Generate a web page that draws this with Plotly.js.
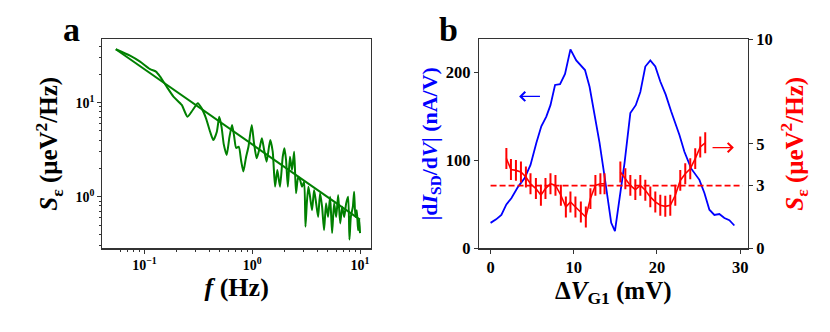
<!DOCTYPE html>
<html>
<head>
<meta charset="utf-8">
<script src="https://cdn.plot.ly/plotly-3.0.1.min.js"></script>
<style>
  html, body { margin: 0; padding: 0; background: #fff; }
  #chart { width: 830px; height: 332px; }
</style>
</head>
<body>
<div id="chart"></div>
<script>
// panel a: noise spectrum (log-log)
const freq = [0.0543, 0.0736, 0.0912, 0.113, 0.128, 0.14, 0.161, 0.186, 0.222, 0.251,
  0.281, 0.313, 0.34, 0.373, 0.407, 0.436, 0.47, 0.495, 0.52, 0.545,
  0.58, 0.615, 0.65, 0.68, 0.71, 0.75, 0.79, 0.828, 0.875, 0.923,
  0.99, 1.04, 1.10, 1.17, 1.23, 1.29, 1.36, 1.47, 1.55, 1.63,
  1.71, 1.81, 1.92, 1.99, 2.06, 2.14, 2.24, 2.34, 2.45, 2.55,
  2.67, 2.78, 2.9, 3.03, 3.12, 3.21, 3.32, 3.44, 3.59, 3.75,
  3.92, 4.09, 4.26, 4.45, 4.64, 4.84, 5.05, 5.28, 5.51, 5.75,
  6.01, 6.27, 6.55, 6.83, 7.13, 7.44, 7.76, 7.98, 8.22, 8.58,
  8.82, 9.06, 9.33, 9.6, 9.86, 10];
const spectrum = [37, 31.6, 27.3, 22.7, 21.4, 18.9, 14.8, 11.6, 9.46, 7.1,
  8.36, 9.86, 8.7, 6.82, 4.91, 4.01, 4.91, 7.1, 5.5, 3.6,
  2.78, 4.3, 5.8, 4.4, 3.3, 3.4, 2.4, 1.85, 2.6, 3.4,
  5.79, 3.7, 2.56, 3.27, 4.18, 3.14, 2.36, 4.01, 3.01, 1.28,
  1.92, 1.28, 2.66, 3.27, 2.46, 1.28, 2.66, 1.92, 3.01, 1.09,
  1.63, 1.51, 1.28, 1.44, 0.48, 0.85, 1.28, 1.0, 0.72, 1.18,
  0.85, 0.61, 1.09, 0.78, 0.44, 0.85, 0.61, 1.0, 0.41, 0.85,
  0.61, 1.04, 0.52, 0.78, 0.61, 0.85, 1.0, 0.35, 0.61, 0.78,
  1.13, 0.61, 0.72, 0.44, 0.57, 0.41];
const fitFreq = [0.0543, 10];
const fitSpectrum = [37, 0.57];

// panel b: transconductance (left axis)
const gateV = [0, 0.67, 1.3, 1.9, 2.5, 3.3, 4.1, 4.8, 5.5, 6.1, 6.7, 7.2, 7.75, 8.35, 8.95,
  9.6, 10.3, 11.35, 11.9, 12.5, 13.1, 13.7, 14.3, 14.5, 14.95,
  16.1, 16.8, 17.45, 18.0, 18.6, 19.2, 19.8, 20.4, 21.05, 21.7, 22.7, 23.3,
  24.1, 25.1, 25.7, 26.3, 26.9, 27.5, 28.1, 28.7, 29.3];
const dIdV = [29, 33, 38, 50, 57, 70, 80, 95, 120, 139, 150, 163, 186, 187, 198.5,
  226.5, 214, 203, 184, 154, 120, 82, 44, 29, 19.5,
  97, 154, 163, 178, 207, 214, 207, 190, 175, 156, 129, 110,
  91, 78, 63, 44, 38, 39, 34.5, 32, 26];

// panel b: noise level (right axis), two sweeps
const noiseV1 = [1.9, 2.45, 3.05, 3.65, 4.25, 4.8, 5.45, 6.05, 6.6, 7.2, 7.8,
  8.45, 9.05, 9.6, 10.2, 10.85, 11.45, 12.0, 12.6, 13.2, 13.7];
const noiseS1 = [4.3, 3.77, 3.73, 3.65, 3.41, 3.09, 2.86, 2.54, 2.86, 3.09, 3.01,
  2.54, 1.98, 2.22, 1.98, 1.74, 1.5, 2.38, 3.01, 3.09, 3.09];
const noiseV2 = [15.6, 16.2, 16.8, 17.4, 18.0, 18.6, 19.2, 19.8, 20.4, 21.0,
  21.6, 22.2, 22.8, 23.4, 24.0, 24.6, 25.2, 25.8];
const noiseS2 = [3.65, 3.33, 3.01, 2.81, 3.01, 2.78, 2.46, 2.22, 2.06, 2.01,
  2.06, 2.54, 3.25, 3.57, 3.81, 4.29, 4.85, 5.05];
const noiseErr = 0.5;
const meanV = [0, 30.3];
const meanS = [3, 3];

// tick labels
const fTicks = [0.1, 1, 10];
const fTickText = ["10<sup>\u22121</sup>", "10<sup>0</sup>", "10<sup>1</sup>"];
const sTicks = [1, 10];
const sTickText = ["10<sup>0</sup>", "10<sup>1</sup>"];
const vTicks = [0, 10, 20, 30];
const gTicks = [0, 100, 200];
const nTicks = [0, 3, 5, 10];

const serif = "Liberation Serif";
const bold = arr => arr.map(t => "<b>" + t + "</b>");

const data = [
  { x: freq, y: spectrum, xaxis: "x", yaxis: "y", mode: "lines", type: "scatter",
    line: { color: "#008000", width: 2, shape: "spline", smoothing: 0.6 } },
  { x: fitFreq, y: fitSpectrum, xaxis: "x", yaxis: "y", mode: "lines", type: "scatter",
    line: { color: "#008000", width: 2 } },
  { x: gateV, y: dIdV, xaxis: "x2", yaxis: "y2", mode: "lines", type: "scatter",
    line: { color: "#0000ff", width: 1.8 } },
  { x: meanV, y: meanS, xaxis: "x2", yaxis: "y3", mode: "lines", type: "scatter",
    line: { color: "#ff0000", width: 1.6, dash: "6px,3px" } },
  { x: noiseV1, y: noiseS1, xaxis: "x2", yaxis: "y3", mode: "lines", type: "scatter",
    line: { color: "#ff0000", width: 1.6 },
    error_y: { type: "constant", value: noiseErr, color: "#ff0000", thickness: 2, width: 0 } },
  { x: noiseV2, y: noiseS2, xaxis: "x2", yaxis: "y3", mode: "lines", type: "scatter",
    line: { color: "#ff0000", width: 1.6 },
    error_y: { type: "constant", value: noiseErr, color: "#ff0000", thickness: 2, width: 0 } }
];

const minorF = [0.06, 0.07, 0.08, 0.09, 0.2, 0.3, 0.4, 0.5, 0.6, 0.7, 0.8, 0.9,
  2, 3, 4, 5, 6, 7, 8, 9];
const minorS = [0.3, 0.4, 0.5, 0.6, 0.7, 0.8, 0.9, 2, 3, 4, 5, 6, 7, 8, 9, 20, 30, 40];

function axis(extra, tickSize) {
  return Object.assign({
    showline: true, linecolor: "#333", linewidth: 1.2, mirror: false,
    ticks: "outside", ticklen: 4, tickcolor: "#333", showgrid: false, zeroline: false,
    tickmode: "array",
    tickfont: { family: serif, size: tickSize, color: "#000" }
  }, extra);
}
function titleFont(size, color) {
  return { family: serif, size: size, color: color || "#000" };
}

const layout = {
  width: 830, height: 332,
  margin: { l: 0, r: 0, t: 0, b: 0 },
  paper_bgcolor: "#fff", plot_bgcolor: "#fff",
  showlegend: false,
  font: { family: serif, color: "#000" },
  xaxis: axis({
    type: "log", domain: [0.1233, 0.447], anchor: "y", range: [-1.39, 1.102], mirror: true,
    tickvals: fTicks, ticktext: bold(fTickText),
    minor: { tickmode: "array", tickvals: minorF, ticks: "outside", ticklen: 2, tickcolor: "#333" },
    title: { text: "<b><i>f</i> (Hz)</b>", font: titleFont(26), standoff: 5 }
  }, 14),
  yaxis: axis({
    type: "log", domain: [0.252, 0.8816], anchor: "x", range: [-0.549, 1.674], mirror: true,
    tickvals: sTicks, ticktext: bold(sTickText),
    minor: { tickmode: "array", tickvals: minorS, ticks: "outside", ticklen: 2, tickcolor: "#333" },
    title: { text: "<b><i>S</i><sub>\u03b5</sub> (\u03bceV<sup>2</sup>/Hz)</b>", font: titleFont(25), standoff: 10 }
  }, 14),
  xaxis2: axis({
    domain: [0.577, 0.9008], anchor: "y2", range: [-1.4, 30.9], mirror: true,
    tickvals: vTicks, ticktext: bold(vTicks)
  }, 16.5),
  yaxis2: axis({
    domain: [0.252, 0.8816], anchor: "x2", range: [0, 238],
    tickvals: gTicks, ticktext: bold(gTicks),
    title: { text: "<b>|d<i>I</i><sub>SD</sub>/d<i>V</i>| (nA/V)</b>", font: titleFont(22, "#0000ff"), standoff: 2 }
  }, 16.5),
  yaxis3: axis({
    overlaying: "y2", side: "right", anchor: "x2", range: [0, 10],
    tickvals: nTicks, ticktext: bold(nTicks),
    title: { text: "<b><i>S</i><sub>\u03b5</sub> (\u03bceV<sup>2</sup>/Hz)</b>", font: titleFont(25, "#ff0000"), standoff: 13 }
  }, 16.5),
  annotations: [
    { text: "<b>a</b>", xref: "paper", yref: "paper", x: 0.0865, y: 0.91, xanchor: "center", yanchor: "middle",
      showarrow: false, font: { family: serif, size: 34 } },
    { text: "<b>b</b>", xref: "paper", yref: "paper", x: 0.5401, y: 0.91, xanchor: "center", yanchor: "middle",
      showarrow: false, font: { family: serif, size: 34 } },
    { text: "<b>\u0394<i>V</i><sub>G1</sub> (mV)</b>", xref: "paper", yref: "paper", x: 0.7389, y: 0.12,
      xanchor: "center", yanchor: "middle", borderpad: 0, showarrow: false, font: { family: serif, size: 25 } },
    { text: "", xref: "x2", yref: "y2", x: 3.43, y: 173, axref: "x2", ayref: "y2", ax: 6.12, ay: 173,
      showarrow: true, arrowhead: 4, arrowsize: 1.4, arrowwidth: 1.3, arrowcolor: "#0000ff" },
    { text: "", xref: "x2", yref: "y3", x: 29.24, y: 4.82, axref: "x2", ayref: "y3", ax: 26.5, ay: 4.82,
      showarrow: true, arrowhead: 4, arrowsize: 1.4, arrowwidth: 1.3, arrowcolor: "#ff0000" }
  ]
};

Plotly.newPlot("chart", data, layout, { displayModeBar: false, staticPlot: true });
</script>
</body>
</html>
